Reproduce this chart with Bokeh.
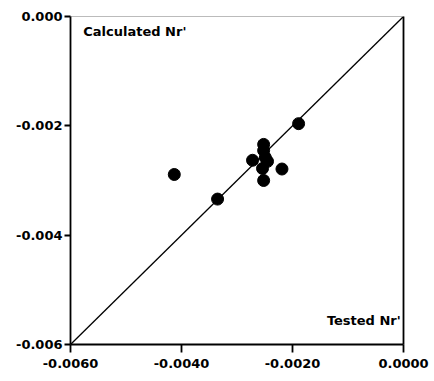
from bokeh.plotting import figure
from bokeh.models import FixedTicker, PrintfTickFormatter, LinearAxis, Label, Range1d
from bokeh.embed import file_html
from bokeh.resources import INLINE

# Data
tested = [-0.00413, -0.00335, -0.00189, -0.00272, -0.00252, -0.00252, -0.00249,
          -0.00245, -0.00254, -0.00252, -0.00219]
calculated = [-0.00289, -0.00334, -0.00196, -0.00263, -0.00234, -0.00245, -0.00258,
              -0.00265, -0.00278, -0.00300, -0.00279]
diag = [-0.006, 0.0]
x_ticks = [-0.006, -0.004, -0.002, 0.0]
y_ticks = [-0.006, -0.004, -0.002, 0.0]

FONT = "DejaVu Sans"

p = figure(output_backend="svg", toolbar_location=None,
           frame_width=333, frame_height=328,
           x_range=Range1d(-0.006, 0.0), y_range=Range1d(-0.006, 0.0),
           min_border_left=70, min_border_top=16, min_border_right=30, min_border_bottom=34)
p.background_fill_color = "white"
p.border_fill_color = "white"
p.outline_line_color = None
p.grid.visible = False

p.line(diag, diag, line_color="black", line_width=1.3)
p.scatter(tested, calculated, size=12, fill_color="black", line_color="black")

for ax, fmt, ticks in ((p.xaxis[0], "%.4f", x_ticks), (p.yaxis[0], "%.3f", y_ticks)):
    ax.ticker = FixedTicker(ticks=ticks)
    ax.formatter = PrintfTickFormatter(format=fmt)
    ax.axis_line_width = 1.8
    ax.axis_line_color = "black"
    ax.major_tick_line_width = 1.8
    ax.major_tick_in = 0
    ax.minor_tick_line_color = None
    ax.major_label_text_font = FONT
    ax.major_label_text_font_style = "bold"
    ax.major_label_text_font_size = "13px"
    ax.major_label_text_color = "black"
p.yaxis[0].major_tick_out = 6
p.yaxis[0].major_label_standoff = 2
p.xaxis[0].major_tick_out = 8
p.xaxis[0].major_label_standoff = 6

right = LinearAxis(ticker=FixedTicker(ticks=[]), major_label_text_font_size="0px",
                   axis_line_width=1.8, axis_line_color="black", minor_tick_line_color=None)
p.add_layout(right, "right")
top = LinearAxis(ticker=FixedTicker(ticks=[]), major_label_text_font_size="0px",
                 axis_line_width=1, axis_line_color="#bbbbbb", minor_tick_line_color=None)
p.add_layout(top, "above")

p.add_layout(Label(x=-0.00577, y=-0.00013, text="Calculated Nr'", text_font=FONT,
                   text_font_style="bold", text_font_size="13px", text_baseline="top",
                   text_color="black"))
p.add_layout(Label(x=-0.00005, y=-0.0057, text="Tested Nr'", text_font=FONT,
                   text_font_style="bold", text_font_size="13px", text_baseline="bottom",
                   text_align="right", text_color="black"))

open("out.html", "w").write(file_html(p, INLINE))
